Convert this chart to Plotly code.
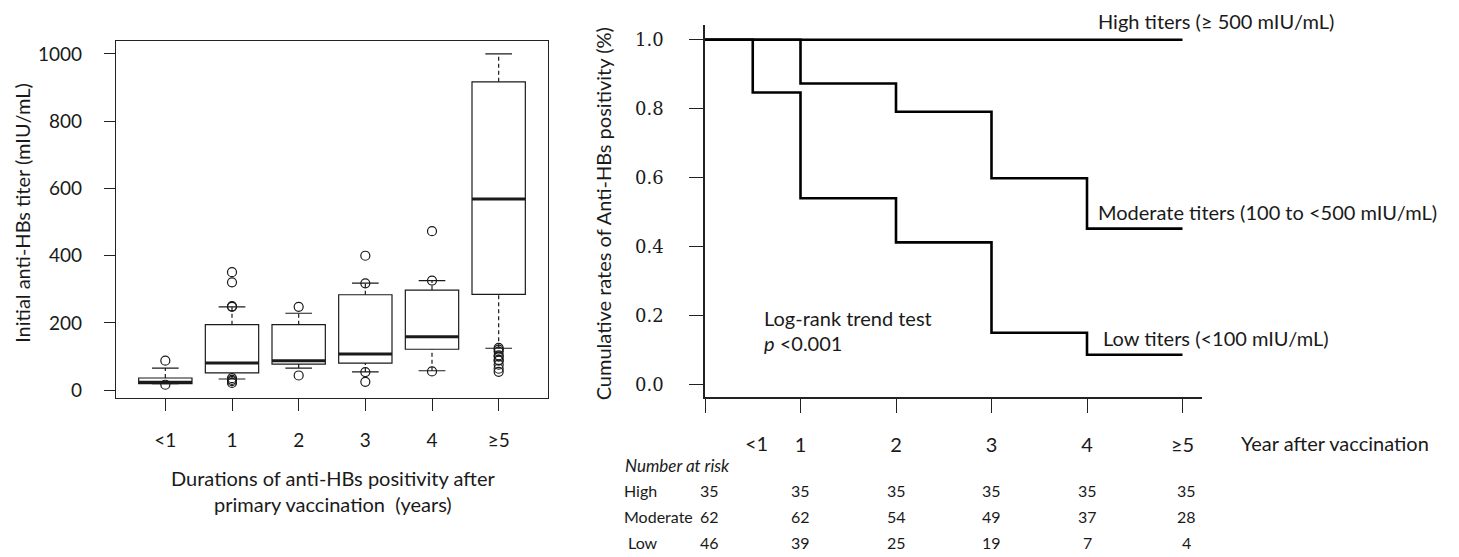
import plotly.graph_objects as go

W, H = 1459, 557

# ---------------- Left panel data (box plot) ----------------
categories = ["<1", "1", "2", "3", "4", "≥5"]
box_q1 = [19.5, 52, 78, 81, 122, 285]
box_median = [23.7, 81, 88, 108, 159, 569]
box_q3 = [36.5, 195, 195, 284, 298, 917]
whisk_lo = [19.5, 33.5, 66, 54.5, 58, 125]
whisk_hi = [66, 248, 229, 318.5, 326, 1000]
outliers = [
    [88, 16.5],
    [351, 321, 250, 248, 36, 31, 27, 22],
    [248, 44],
    [400, 318, 54, 25],
    [473, 326, 56],
    [126, 121, 115, 104, 100, 90, 88, 76, 64, 55],
]
titer_ticks = [0, 200, 400, 600, 800, 1000]

# ---------------- Right panel data (Kaplan-Meier) ----------------
km_high_t = [0, 5]
km_high_s = [1.0, 1.0]
km_mod_t = [0, 1, 2, 3, 4, 5]
km_mod_s = [1.0, 0.873, 0.791, 0.598, 0.452, 0.452]
km_low_t = [0, 0.5, 1, 2, 3, 4, 5]
km_low_s = [1.0, 0.847, 0.540, 0.412, 0.150, 0.086, 0.086]
surv_ticks = [0.0, 0.2, 0.4, 0.6, 0.8, 1.0]
year_ticks = [0, 1, 2, 3, 4, 5]
year_labels = ["", "1", "2", "3", "4", "≥5"]
lt1_pos = 0.54

risk_times = [0.05, 1, 2, 3, 4, 5.04]
risk_groups = ["High", "Moderate", "Low"]
risk_high = [35, 35, 35, 35, 35, 35]
risk_mod = [62, 62, 54, 49, 37, 28]
risk_low = [46, 39, 25, 19, 7, 4]

SANS = "Lato, 'Open Sans', sans-serif"
SERIF = "'DejaVu Serif', serif"
INK = "#1a1a1a"


def px(x):
    return x / W


def py(y):
    return 1 - y / H


fig = go.Figure()

# ---- boxes ----
pos = list(range(1, len(categories) + 1))
half = 0.4
cap = 0.2
fig.add_trace(go.Box(
    x=pos, q1=box_q1, median=box_median, q3=box_q3,
    lowerfence=box_q1, upperfence=box_q3,
    width=2 * half, whiskerwidth=0,
    fillcolor="white", line=dict(color=INK, width=1.2),
    boxpoints=False, showlegend=False, hoverinfo="skip",
    xaxis="x", yaxis="y",
))

# thick medians
mx, my = [], []
for p, m in zip(pos, box_median):
    mx += [p - half, p + half, None]
    my += [m, m, None]
fig.add_trace(go.Scatter(x=mx, y=my, mode="lines", line=dict(color=INK, width=3),
                         showlegend=False, hoverinfo="skip", xaxis="x", yaxis="y"))

# dashed whiskers
wx, wy = [], []
for p, a, b, c, d in zip(pos, whisk_lo, box_q1, box_q3, whisk_hi):
    wx += [p, p, None, p, p, None]
    wy += [a, b, None, c, d, None]
fig.add_trace(go.Scatter(x=wx, y=wy, mode="lines",
                         line=dict(color=INK, width=1.2, dash="4px,3px"),
                         showlegend=False, hoverinfo="skip", xaxis="x", yaxis="y"))

# caps
cx, cy = [], []
for p, a, d in zip(pos, whisk_lo, whisk_hi):
    cx += [p - cap, p + cap, None, p - cap, p + cap, None]
    cy += [a, a, None, d, d, None]
fig.add_trace(go.Scatter(x=cx, y=cy, mode="lines", line=dict(color=INK, width=1.2),
                         showlegend=False, hoverinfo="skip", xaxis="x", yaxis="y"))

# outliers
ox, oy = [], []
for p, vals in zip(pos, outliers):
    ox += [p] * len(vals)
    oy += vals
fig.add_trace(go.Scatter(x=ox, y=oy, mode="markers",
                         marker=dict(symbol="circle-open", size=9, color=INK, line=dict(width=1.2)),
                         showlegend=False, hoverinfo="skip", xaxis="x", yaxis="y"))

# ---- KM curves ----
for t, s in [(km_high_t, km_high_s), (km_mod_t, km_mod_s), (km_low_t, km_low_s)]:
    fig.add_trace(go.Scatter(x=t, y=s, mode="lines", line=dict(color="black", width=2.6, shape="hv"),
                             showlegend=False, hoverinfo="skip", xaxis="x2", yaxis="y2"))

axis_common = dict(showgrid=False, zeroline=False, linecolor="#222", ticks="outside",
                   tickcolor="#222", showline=True)

fig.update_layout(
    width=W, height=H, autosize=False,
    margin=dict(l=0, r=0, t=0, b=0),
    paper_bgcolor="white", plot_bgcolor="white",
    showlegend=False,
    xaxis=dict(domain=[px(116), px(548)], range=[0.26, 6.74],
               tickvals=pos, ticktext=categories, ticklen=12, linewidth=1.3,
               mirror=True, ticklabelstandoff=13,
               tickfont=dict(family=SANS, size=19, color=INK), anchor="y", **axis_common),
    yaxis=dict(domain=[py(400), py(41.5)], range=[-22.5, 1037.5],
               tickvals=titer_ticks, ticklen=11, linewidth=1.3, mirror=True,
               ticklabelstandoff=18,
               tickfont=dict(family=SANS, size=19, color=INK), anchor="x", **axis_common),
    xaxis2=dict(domain=[px(705), px(1201.6)], range=[0, 5.2],
                tickvals=year_ticks, ticktext=year_labels, ticklen=14, linewidth=1.6,
                ticklabelstandoff=15,
                tickfont=dict(family=SANS, size=20, color=INK), anchor="y2", **axis_common),
    yaxis2=dict(domain=[py(399.3), py(25)], range=[-0.037, 1.043],
                tickvals=surv_ticks, tickformat=".1f", ticklen=14, linewidth=1.6,
                ticklabelstandoff=22,
                tickfont=dict(family=SERIF, size=18, color=INK), anchor="x2", **axis_common),
)

ann = []
font_main = dict(family=SANS, size=20, color=INK)
# left titles
ann.append(dict(text="Initial anti-HBs titer (mIU/mL)", x=px(22), y=py(214), xref="paper", yref="paper",
                textangle=-90, showarrow=False, font=font_main, xanchor="center", yanchor="middle"))
ann.append(dict(text="Durations of anti-HBs positivity after<br>primary vaccination\u00a0 (years)",
                x=px(333), y=py(494), xref="paper", yref="paper", showarrow=False,
                font=font_main, xanchor="center", yanchor="middle"))
# right titles
ann.append(dict(text="Cumulative rates of Anti-HBs positivity (%)", x=px(603), y=py(215.5),
                xref="paper", yref="paper", textangle=-90, showarrow=False, font=font_main,
                xanchor="center", yanchor="middle"))
ann.append(dict(text="<1", x=lt1_pos, y=py(445.7), xref="x2", yref="paper", showarrow=False,
                font=dict(family=SANS, size=20, color=INK), xanchor="center", yanchor="middle"))
ann.append(dict(text="Year after vaccination", x=px(1239), y=py(445.7), xref="paper", yref="paper",
                showarrow=False, font=font_main, xanchor="left", yanchor="middle"))
# curve labels
ann.append(dict(text="High titers (≥ 500 mIU/mL)", x=px(1096), y=py(20.7), xref="paper", yref="paper",
                showarrow=False, font=font_main, xanchor="left", yanchor="middle"))
ann.append(dict(text="Moderate titers (100 to <500 mIU/mL)", x=px(1096), y=py(213.3), xref="paper",
                yref="paper", showarrow=False, font=font_main, xanchor="left", yanchor="middle"))
ann.append(dict(text="Low titers (<100 mIU/mL)", x=px(1101), y=py(340), xref="paper", yref="paper",
                showarrow=False, font=font_main, xanchor="left", yanchor="middle"))
ann.append(dict(text="Log-rank trend test", x=px(762), y=py(319.3), xref="paper", yref="paper",
                showarrow=False, font=font_main, xanchor="left", yanchor="middle"))
ann.append(dict(text="<i>p</i> <0.001", x=px(762), y=py(345), xref="paper", yref="paper",
                showarrow=False, font=font_main, xanchor="left", yanchor="middle"))

# number at risk table
font_tab = dict(family=SANS, size=16, color=INK)
ann.append(dict(text="<i>Number at risk</i>", x=px(623), y=py(468), xref="paper", yref="paper",
                showarrow=False, font=dict(family=SANS, size=17, color=INK),
                xanchor="left", yanchor="middle"))
row_y = [493, 519, 545]
row_x = [622, 622, 626]
for name, vals, yy, xx in zip(risk_groups, [risk_high, risk_mod, risk_low], row_y, row_x):
    ann.append(dict(text=name, x=px(xx), y=py(yy), xref="paper", yref="paper", showarrow=False,
                    font=font_tab, xanchor="left", yanchor="middle"))
    for t, v in zip(risk_times, vals):
        ann.append(dict(text=str(v), x=t, y=py(yy), xref="x2", yref="paper", showarrow=False,
                        font=font_tab, xanchor="center", yanchor="middle"))

fig.update_layout(annotations=ann)
fig.write_html("out.html",
               config={"displayModeBar": False, "responsive": False},
               post_script="document.body.style.margin='0';document.body.style.overflow='hidden';")
